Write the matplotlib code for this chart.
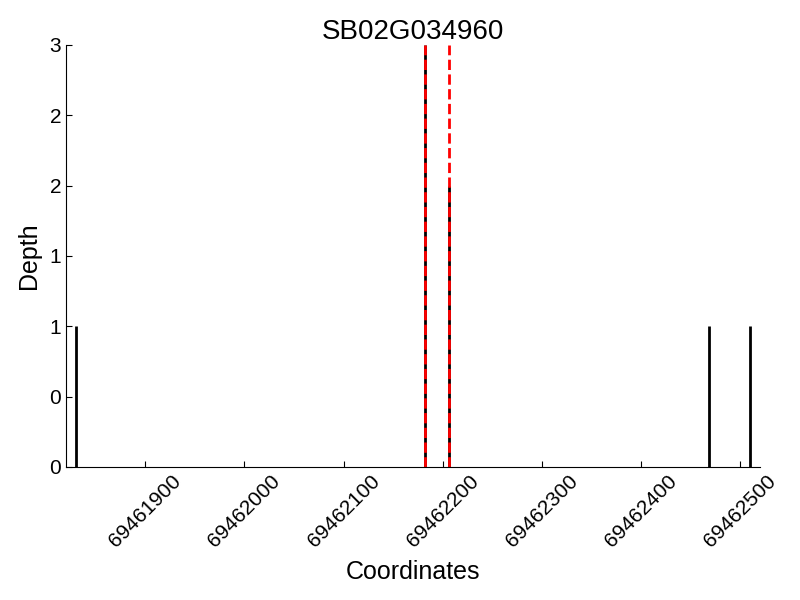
import numpy as np
import matplotlib
matplotlib.use("Agg")
from matplotlib import pyplot as plt
from matplotlib.ticker import FormatStrFormatter

plt.rcParams['font.family'] = ['Liberation Sans', 'DejaVu Sans']

gene = "SB02G034960"
# read positions and depth
positions = [69461830, 69462182, 69462206, 69462469, 69462510]
depths = [1, 3, 2, 1, 1]
# dashed markers
markers = [69462182, 69462206]

fig = plt.figure(figsize=(8, 6), dpi=100)
ax = fig.add_axes([0.0825, 0.2217, 0.8675, 0.7033])

ax.vlines(positions, 0, depths, colors='black', linewidth=2)
for m in markers:
    ax.axvline(m, color='red', linestyle='--', linewidth=2)

ax.set_xlim(min(positions) - 10, max(positions) + 10)
ax.set_ylim(0, 3)
ax.set_yticks(np.arange(0, 3.01, 0.5))
ax.yaxis.set_major_formatter(FormatStrFormatter('%d'))
ax.xaxis.set_major_formatter(FormatStrFormatter('%d'))
ax.set_xticks(np.arange(69461900, 69462501, 100))

ax.spines['top'].set_visible(False)
ax.spines['right'].set_visible(False)
ax.tick_params(direction='in', labelsize=15, length=4)
ax.xaxis.set_ticks_position('bottom')
ax.yaxis.set_ticks_position('left')
plt.setp(ax.get_xticklabels(), rotation=45)

ax.set_title(gene, fontsize=20, pad=2)
ax.set_xlabel("Coordinates", fontsize=18, labelpad=6)
ax.set_ylabel("Depth", fontsize=18, labelpad=6)

fig.savefig("out.png")
